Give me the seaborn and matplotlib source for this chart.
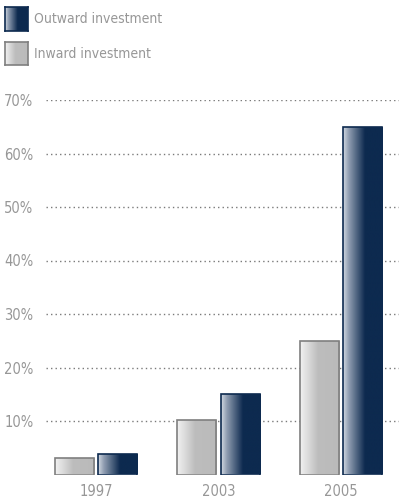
import numpy as np
import pandas as pd
import matplotlib
matplotlib.use("Agg")
import matplotlib.pyplot as plt
import seaborn as sns
from matplotlib.colors import LinearSegmentedColormap

years = ["1997", "2003", "2005"]
inward = [3.1, 10.2, 25.0]
outward = [3.9, 15.0, 65.0]
series_names = ["Inward investment", "Outward investment"]
ytick_values = [10, 20, 30, 40, 50, 60, 70]
ytick_labels = ["10%", "20%", "30%", "40%", "50%", "60%", "70%"]

sns.set_theme(style="white")
plt.rcParams["font.family"] = ["DejaVu Sans"]
plt.rcParams["font.stretch"] = "condensed"
plt.rcParams["font.weight"] = "normal"

TEXT = "#979797"
NAVY = "#0d2a4f"
GRAY_EDGE = "#7f7f7f"

inward_cmap = LinearSegmentedColormap.from_list(
    "inward", [(0.0, "#f2f2f2"), (0.45, "#bdbdbd"), (1.0, "#bababa")])
outward_cmap = LinearSegmentedColormap.from_list(
    "outward", [(0.0, "#d3d9e2"), (0.15, "#8e9cb0"), (0.55, NAVY), (1.0, NAVY)])

df = pd.DataFrame({
    "year": years * 2,
    "value": inward + outward,
    "series": [series_names[0]] * len(years) + [series_names[1]] * len(years),
})

W, H = 399, 503
fig = plt.figure(figsize=(W / 100, H / 100), dpi=100)
ax = fig.add_axes([46 / W, 1 - 474.5 / H, 1 - 46 / W, (474.5 - 100) / H])

sns.barplot(data=df, x="year", y="value", hue="series", order=years,
            hue_order=series_names, width=0.71, gap=0.1, legend=False,
            palette=["#bdbdbd", NAVY], ax=ax, zorder=3)

grad = np.linspace(0, 1, 256).reshape(1, -1)
for i, patch in enumerate(ax.patches):
    is_in = i < len(years)
    x0, y0 = patch.get_x(), patch.get_y()
    w, h = patch.get_width(), patch.get_height()
    patch.set_facecolor("none")
    patch.set_edgecolor(GRAY_EDGE if is_in else NAVY)
    patch.set_linewidth(1.2)
    patch.set_zorder(4)
    im = ax.imshow(grad, cmap=inward_cmap if is_in else outward_cmap,
                   extent=[x0, x0 + w, y0, y0 + h], aspect="auto",
                   interpolation="bilinear", zorder=3)
    im.set_clip_path(patch)

ax.set_xlim(-0.408, 2.473)
ax.set_ylim(0, 70)
ax.set_yticks(ytick_values)
ax.set_yticklabels(ytick_labels)
for v in ytick_values:
    ax.axhline(v, color="#7a7a7a", linewidth=1.0,
               linestyle=(0, (1.0, 2.25)), zorder=1)
for s in ax.spines.values():
    s.set_visible(False)
ax.tick_params(axis="both", length=0, labelsize=10.5, colors=TEXT)
ax.tick_params(axis="y", pad=9)
ax.tick_params(axis="x", pad=7)
ax.set_xlabel("")
ax.set_ylabel("")
ax.grid(False)

# legend swatches with gradient fill
legend_items = [(series_names[1], outward_cmap, NAVY, 7, 31),
                (series_names[0], inward_cmap, GRAY_EDGE, 42, 65)]
for label, cmap, edge, top, bottom in legend_items:
    lax = fig.add_axes([5 / W, 1 - bottom / H, 23 / W, (bottom - top) / H])
    lax.imshow(grad, cmap=cmap, aspect="auto", extent=[0, 1, 0, 1],
               interpolation="bilinear")
    lax.set_xticks([])
    lax.set_yticks([])
    for s in lax.spines.values():
        s.set_color(edge)
        s.set_linewidth(1.2)
    fig.text(34 / W, 1 - (top + bottom) / 2 / H, label, color=TEXT,
             fontsize=10, va="center", ha="left")

fig.savefig("out.png", dpi=100)
